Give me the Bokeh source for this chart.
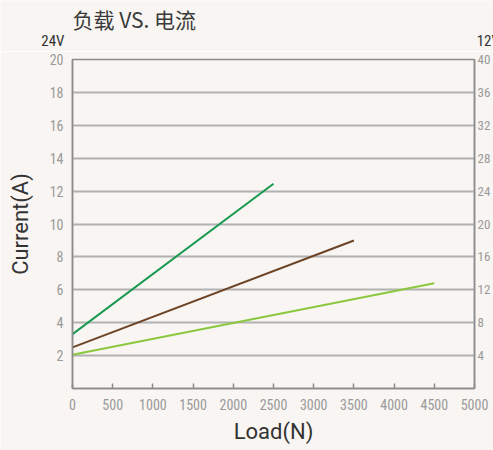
from bokeh.plotting import figure
from bokeh.models import Range1d, LinearAxis, FixedTicker
from bokeh.layouts import column, row
from bokeh.core.properties import value
from bokeh.embed import file_html
from bokeh.resources import INLINE

# ---- data ----
title_text = "负载 VS. 电流"
left_volt = "24V"
right_volt = "12V"
x_label = "Load(N)"
y_label = "Current(A)"

load_dark_green = [0, 2500]
current_dark_green = [3.3, 12.45]
load_brown = [0, 3500]
current_brown = [2.5, 9.0]
load_light_green = [0, 4500]
current_light_green = [2.05, 6.4]

x_ticks = [0, 500, 1000, 1500, 2000, 2500, 3000, 3500, 4000, 4500, 5000]
y_ticks_left = [2, 4, 6, 8, 10, 12, 14, 16, 18, 20]
y_ticks_right = [4, 8, 12, 16, 20, 24, 28, 32, 36, 40]

BG = "#f8f5f2"
AXIS = "#8c8c8c"
GRID = "#b2b2b2"
TICK_TXT = "#9a9a9a"
DARK_TXT = "#333333"
NARROW = "Roboto Condensed"

# ---- header strip (title and voltage captions), same x scale as the chart ----
top = figure(width=493, height=51, output_backend="svg", toolbar_location=None,
             x_range=Range1d(-893.3, 5223.3), y_range=Range1d(20.487, 23.589),
             x_axis_location=None, y_axis_location=None,
             min_border=0, background_fill_color=BG, border_fill_color=BG)
top.grid.visible = False
top.outline_line_color = None
top.text(x=[0], y=[22.49], text=[title_text], text_font=value("Noto Sans CJK SC"),
         text_font_size="21px", text_color="#3a3a3a", text_align="left", text_baseline="middle")
top.text(x=[-100], y=[21.13], text=[left_volt], text_font=value(NARROW),
         text_font_size="15px", text_color=DARK_TXT, text_align="right", text_baseline="middle")
top.text(x=[5015], y=[21.13], text=[right_volt], text_font=value(NARROW),
         text_font_size="15px", text_color=DARK_TXT, text_align="left", text_baseline="middle")

# ---- main chart ----
p = figure(width=493, height=399, output_backend="svg", toolbar_location=None,
           x_range=Range1d(0, 5000), y_range=Range1d(0, 20),
           min_border_left=72, min_border_right=18, min_border_top=8, min_border_bottom=62,
           background_fill_color=BG, border_fill_color=BG)
p.extra_y_ranges = {"right": Range1d(0, 40)}

p.outline_line_color = AXIS
p.outline_line_width = 1.5

p.xgrid.visible = False
p.ygrid.grid_line_color = GRID
p.ygrid.grid_line_width = 2

xa = p.xaxis[0]
xa.ticker = FixedTicker(ticks=x_ticks)
xa.minor_tick_line_color = None
xa.major_tick_in = 5
xa.major_tick_out = 0
xa.major_tick_line_color = AXIS
xa.major_tick_line_width = 1.5
xa.axis_line_color = AXIS
xa.axis_line_width = 1.5
xa.major_label_text_font = NARROW
xa.major_label_text_font_size = "14px"
xa.major_label_text_color = TICK_TXT
xa.major_label_standoff = 10
xa.axis_label = x_label
xa.axis_label_text_font = "Roboto"
xa.axis_label_text_font_style = "normal"
xa.axis_label_text_font_size = "22px"
xa.axis_label_text_color = DARK_TXT
xa.axis_label_standoff = 6

ya = p.yaxis[0]
ya.ticker = FixedTicker(ticks=y_ticks_left)
ya.minor_tick_line_color = None
ya.major_tick_in = 0
ya.major_tick_out = 0
ya.axis_line_color = AXIS
ya.axis_line_width = 1.5
ya.major_label_text_font = NARROW
ya.major_label_text_font_size = "14px"
ya.major_label_text_color = TICK_TXT
ya.major_label_standoff = 9
ya.axis_label = y_label
ya.axis_label_text_font = "Roboto"
ya.axis_label_text_font_style = "normal"
ya.axis_label_text_font_size = "22px"
ya.axis_label_text_color = DARK_TXT
ya.axis_label_standoff = 14

ra = LinearAxis(y_range_name="right", ticker=FixedTicker(ticks=y_ticks_right))
ra.minor_tick_line_color = None
ra.major_tick_in = 0
ra.major_tick_out = 0
ra.axis_line_color = AXIS
ra.axis_line_width = 1.5
ra.major_label_text_font = NARROW
ra.major_label_text_font_size = "13px"
ra.major_label_text_color = TICK_TXT
ra.major_label_standoff = 3
p.add_layout(ra, "right")

p.line(load_dark_green, current_dark_green, line_color="#17994f", line_width=2)
p.line(load_brown, current_brown, line_color="#6e4427", line_width=2)
p.line(load_light_green, current_light_green, line_color="#8cc83f", line_width=2)

layout = column(row(top, spacing=0), p, spacing=0)
open("out.html", "w").write(file_html(layout, INLINE))
